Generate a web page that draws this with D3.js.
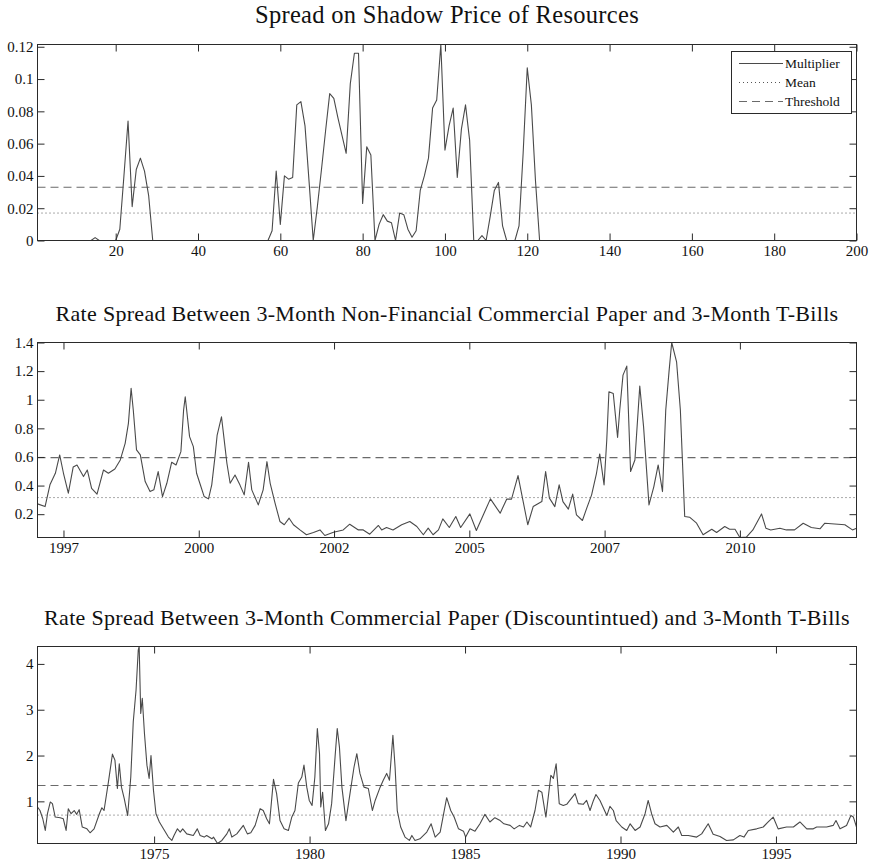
<!DOCTYPE html>
<html>
<head>
<meta charset="utf-8">
<script src="https://cdn.jsdelivr.net/npm/d3@7"></script>
<style>
  body { margin: 0; background: #fff; }
  svg text { font-family: "Liberation Serif", "Times New Roman", serif; fill: #111; }
</style>
</head>
<body>
<svg id="fig" width="871" height="865"></svg>
<script>
// ---- Panel 1: Lagrange multiplier on resources, by period [period, value] ----
const shadowSeries = [
  [1,0],[14,0],[15,0.0018],[16,0],[20,0],[21,0.007],[22,0.040],[23,0.074],[24,0.021],
  [25,0.044],[26,0.051],[27,0.043],[28,0.028],[29,0],[57,0],[58,0.006],[59,0.043],
  [60,0.010],[61,0.040],[62,0.038],[63,0.039],[64,0.084],[65,0.086],[66,0.071],[67,0.036],
  [68,0],[69,0.021],[70,0.044],[71,0.068],[72,0.091],[73,0.088],[74,0.076],[75,0.065],
  [76,0.054],[77,0.097],[78,0.116],[79,0.116],[80,0.023],[81,0.058],[82,0.053],[83,0],
  [84,0.010],[85,0.016],[86,0.012],[87,0.011],[88,0],[89,0.017],[90,0.016],[91,0.007],
  [92,0.002],[93,0.006],[94,0.031],[95,0.040],[96,0.051],[97,0.082],[98,0.087],[99,0.1214],
  [100,0.056],[101,0.071],[102,0.082],[103,0.039],[104,0.069],[105,0.084],[106,0.062],
  [107,0],[108,0],[109,0.003],[110,0],[111,0.015],[112,0.031],[113,0.036],[114,0.009],
  [115,0],[117,0],[118,0.009],[119,0.054],[120,0.107],[121,0.084],[122,0.037],[123,0],[200,0]
];
const shadowMean = 0.017;
const shadowThreshold = 0.033;
const shadowXTicks = [20, 40, 60, 80, 100, 120, 140, 160, 180, 200];
const shadowYTicks = [0, 0.02, 0.04, 0.06, 0.08, 0.1, 0.12];

// ---- Panel 2: non-financial CP minus T-bill spread [year, percent] ----
const nfSeries = [
  [1997.02,0.272],[1997.16,0.253],[1997.25,0.405],[1997.35,0.486],[1997.43,0.614],[1997.50,0.486],
  [1997.59,0.347],[1997.68,0.53],[1997.75,0.544],[1997.87,0.463],[1997.94,0.509],[1998.02,0.381],
  [1998.12,0.34],[1998.24,0.509],[1998.33,0.486],[1998.45,0.516],[1998.55,0.579],[1998.64,0.695],
  [1998.70,0.835],[1998.75,1.08],[1998.79,0.928],[1998.85,0.649],[1998.92,0.614],[1999.01,0.428],
  [1999.10,0.358],[1999.17,0.37],[1999.25,0.498],[1999.33,0.323],[1999.41,0.416],[1999.50,0.563],
  [1999.58,0.544],[1999.67,0.637],[1999.72,0.928],[1999.75,1.021],[1999.83,0.742],[1999.90,0.672],
  [1999.96,0.486],[2000.02,0.416],[2000.10,0.323],[2000.18,0.307],[2000.24,0.405],[2000.30,0.602],
  [2000.34,0.753],[2000.42,0.881],[2000.47,0.719],[2000.52,0.556],[2000.58,0.416],[2000.67,0.474],
  [2000.76,0.405],[2000.84,0.335],[2000.92,0.563],[2000.98,0.37],[2001.10,0.265],[2001.19,0.37],
  [2001.26,0.567],[2001.32,0.416],[2001.41,0.277],[2001.50,0.149],[2001.58,0.126],[2001.67,0.172],
  [2001.75,0.126],[2001.87,0.09],[2001.99,0.056],[2002.12,0.072],[2002.24,0.09],[2002.33,0.051],
  [2002.49,0.074],[2002.67,0.09],[2002.79,0.13],[2002.95,0.09],[2003.04,0.09],[2003.16,0.06],
  [2003.32,0.121],[2003.38,0.09],[2003.47,0.107],[2003.59,0.09],[2003.75,0.126],[2003.90,0.149],
  [2004.03,0.114],[2004.15,0.056],[2004.24,0.102],[2004.33,0.056],[2004.43,0.09],[2004.51,0.167],
  [2004.63,0.107],[2004.75,0.184],[2004.84,0.107],[2005.01,0.202],[2005.13,0.086],[2005.39,0.307],
  [2005.57,0.207],[2005.69,0.305],[2005.78,0.305],[2005.90,0.47],[2006.08,0.126],[2006.18,0.253],
  [2006.34,0.288],[2006.41,0.498],[2006.48,0.312],[2006.58,0.253],[2006.66,0.405],[2006.73,0.288],
  [2006.83,0.235],[2006.91,0.34],[2006.98,0.195],[2007.09,0.156],[2007.17,0.242],[2007.26,0.335],
  [2007.35,0.486],[2007.41,0.621],[2007.49,0.405],[2007.54,0.719],[2007.58,1.056],[2007.66,1.044],
  [2007.74,0.737],[2007.78,0.928],[2007.84,1.172],[2007.91,1.235],[2007.98,0.498],[2008.06,0.579],
  [2008.15,1.095],[2008.22,0.812],[2008.32,0.265],[2008.41,0.393],[2008.49,0.544],[2008.57,0.358],
  [2008.63,0.928],[2008.69,1.195],[2008.74,1.40],[2008.83,1.265],[2008.90,0.928],[2008.98,0.184],
  [2009.07,0.179],[2009.20,0.137],[2009.32,0.056],[2009.48,0.095],[2009.57,0.072],[2009.72,0.114],
  [2009.81,0.095],[2009.91,0.095],[2010.00,0.037],[2010.12,0.04],[2010.24,0.09],[2010.40,0.202],
  [2010.48,0.102],[2010.57,0.09],[2010.74,0.102],[2010.86,0.09],[2011.01,0.09],[2011.17,0.137],
  [2011.32,0.107],[2011.48,0.098],[2011.57,0.137],[2011.69,0.133],[2011.94,0.126],[2012.08,0.09],
  [2012.155,0.102]
];
const nfMean = 0.316;
const nfThreshold = 0.595;
const nfXTicks = [1997.5, 2000, 2002.5, 2005, 2007.5, 2010];
const nfXTickLabels = ["1997", "2000", "2002", "2005", "2007", "2010"];
const nfYTicks = [0.2, 0.4, 0.6, 0.8, 1, 1.2, 1.4];

// ---- Panel 3: commercial paper (discontinued) minus T-bill spread [year, percent] ----
const cpSeries = [
  [1971.25,0.876],[1971.33,0.80],[1971.42,0.62],[1971.50,0.365],[1971.57,0.73],[1971.66,0.985],
  [1971.73,0.95],[1971.82,0.657],[1971.98,0.643],[1972.08,0.62],[1972.17,0.365],[1972.24,0.84],
  [1972.33,0.73],[1972.43,0.80],[1972.51,0.716],[1972.59,0.818],[1972.69,0.438],[1972.84,0.40],
  [1972.94,0.314],[1973.07,0.40],[1973.24,0.73],[1973.32,0.86],[1973.39,0.80],[1973.53,1.42],
  [1973.66,2.03],[1973.74,1.90],[1973.82,1.28],[1973.88,1.82],[1973.95,1.31],[1974.04,1.06],
  [1974.15,0.69],[1974.25,1.53],[1974.33,2.74],[1974.42,3.43],[1974.49,4.30],[1974.52,4.38],
  [1974.57,2.92],[1974.62,3.25],[1974.69,2.48],[1974.77,1.79],[1974.84,1.50],[1974.90,2.0],
  [1974.98,1.24],[1975.06,0.73],[1975.17,0.55],[1975.30,0.40],[1975.46,0.22],[1975.57,0.147],
  [1975.64,0.256],[1975.75,0.40],[1975.84,0.33],[1975.92,0.40],[1976.05,0.29],[1976.26,0.256],
  [1976.39,0.40],[1976.48,0.256],[1976.61,0.22],[1976.69,0.256],[1976.86,0.183],[1976.91,0.22],
  [1977.04,0.08],[1977.18,0.147],[1977.34,0.29],[1977.42,0.40],[1977.50,0.22],[1977.66,0.29],
  [1977.87,0.475],[1978.00,0.29],[1978.11,0.314],[1978.25,0.475],[1978.41,0.84],[1978.51,0.80],
  [1978.62,0.62],[1978.71,0.51],[1978.84,1.48],[1978.94,1.17],[1979.05,0.58],[1979.18,0.40],
  [1979.32,0.365],[1979.43,0.66],[1979.53,0.80],[1979.64,1.40],[1979.75,1.53],[1979.82,1.79],
  [1979.91,1.31],[1979.99,1.02],[1980.08,0.91],[1980.17,1.53],[1980.25,2.59],[1980.32,2.04],
  [1980.36,0.876],[1980.42,1.20],[1980.51,0.365],[1980.61,0.51],[1980.71,0.95],[1980.82,1.97],
  [1980.89,2.59],[1980.96,2.19],[1981.04,1.31],[1981.17,0.58],[1981.30,1.17],[1981.43,1.75],
  [1981.52,2.04],[1981.62,1.61],[1981.75,1.31],[1981.89,1.28],[1982.02,0.80],[1982.11,1.02],
  [1982.27,1.31],[1982.37,1.46],[1982.48,1.61],[1982.57,1.46],[1982.68,2.44],[1982.75,1.75],
  [1982.82,0.80],[1982.93,0.44],[1983.07,0.22],[1983.21,0.147],[1983.29,0.256],[1983.39,0.147],
  [1983.55,0.183],[1983.77,0.33],[1983.91,0.51],[1984.04,0.22],[1984.20,0.33],[1984.41,1.08],
  [1984.54,0.80],[1984.65,0.657],[1984.79,0.40],[1984.95,0.35],[1985.02,0.22],[1985.16,0.40],
  [1985.32,0.35],[1985.48,0.51],[1985.64,0.716],[1985.80,0.55],[1985.96,0.643],[1986.13,0.58],
  [1986.25,0.51],[1986.45,0.475],[1986.58,0.40],[1986.75,0.475],[1986.88,0.44],[1986.99,0.55],
  [1987.11,0.44],[1987.25,0.80],[1987.36,1.24],[1987.47,1.20],[1987.60,0.657],[1987.76,1.57],
  [1987.84,1.50],[1987.93,1.82],[1988.03,0.95],[1988.16,0.91],[1988.27,0.935],[1988.54,1.17],
  [1988.64,0.95],[1988.80,0.935],[1988.91,1.02],[1989.02,0.80],[1989.13,1.02],[1989.21,1.15],
  [1989.34,1.02],[1989.56,0.69],[1989.66,0.89],[1989.77,0.80],[1989.86,0.58],[1990.04,0.44],
  [1990.20,0.365],[1990.31,0.51],[1990.47,0.365],[1990.63,0.44],[1990.79,0.73],[1990.89,1.02],
  [1991.00,0.73],[1991.11,0.51],[1991.27,0.44],[1991.49,0.475],[1991.70,0.33],[1991.86,0.44],
  [1991.97,0.256],[1992.18,0.256],[1992.45,0.22],[1992.61,0.29],[1992.82,0.51],[1992.98,0.28],
  [1993.20,0.234],[1993.41,0.147],[1993.63,0.16],[1993.84,0.256],[1993.97,0.22],[1994.11,0.365],
  [1994.38,0.40],[1994.59,0.44],[1994.75,0.55],[1994.91,0.657],[1995.07,0.40],[1995.34,0.44],
  [1995.56,0.44],[1995.77,0.55],[1995.99,0.40],[1996.20,0.40],[1996.31,0.44],[1996.63,0.44],
  [1996.84,0.475],[1996.93,0.58],[1997.06,0.40],[1997.27,0.475],[1997.41,0.69],[1997.49,0.657],
  [1997.59,0.44]
];
const cpMean = 0.70;
const cpThreshold = 1.345;
const cpXTicks = [1975, 1980, 1985, 1990, 1995];
const cpYTicks = [1, 2, 3, 4];

const titles = [
  "Spread on Shadow Price of Resources",
  "Rate Spread Between 3-Month Non-Financial Commercial Paper and 3-Month T-Bills",
  "Rate Spread Between 3-Month Commercial Paper (Discountintued) and 3-Month T-Bills"
];
const legendLabels = ["Multiplier", "Mean", "Threshold"];

// ---- drawing ----
const svg = d3.select("#fig");
const LEFT = 37.5, RIGHT = 856.5, TICK = 7;
const LINE_COLOR = "#4a4a4a", BOX_COLOR = "#2a2a2a";
const MEAN_DASH = "1,3", THRESH_DASH = "8,5";
const fmt = d => String(+d.toFixed(4));

function drawPanel(p, idx) {
  const x = d3.scaleLinear().domain(d3.extent(p.series, d => d[0])).range([LEFT, RIGHT]);
  const y = d3.scaleLinear().domain(p.yDomain || d3.extent(p.series, d => d[1])).range([p.bottom, p.top]);
  const g = svg.append("g");

  const clipId = "clip" + idx;
  g.append("clipPath").attr("id", clipId).append("rect")
    .attr("x", LEFT).attr("y", p.top - 1).attr("width", RIGHT - LEFT).attr("height", p.bottom - p.top + 2);

  const plot = g.append("g").attr("clip-path", `url(#${clipId})`);
  plot.append("line").attr("x1", LEFT).attr("x2", RIGHT)
    .attr("y1", y(p.mean)).attr("y2", y(p.mean))
    .attr("stroke", "#555").attr("stroke-width", 1).attr("stroke-dasharray", MEAN_DASH);
  plot.append("line").attr("x1", LEFT).attr("x2", RIGHT)
    .attr("y1", y(p.threshold)).attr("y2", y(p.threshold))
    .attr("stroke", "#6a6a6a").attr("stroke-width", 1.1).attr("stroke-dasharray", THRESH_DASH);
  plot.append("path").datum(p.series)
    .attr("fill", "none").attr("stroke", LINE_COLOR).attr("stroke-width", 1.1)
    .attr("stroke-linejoin", "round")
    .attr("d", d3.line().x(d => x(d[0])).y(d => y(d[1])));

  const xLab = p.xTickLabels ? ((d, i) => p.xTickLabels[i]) : fmt;

  const ax = [
    g.append("g").attr("transform", `translate(0,${p.bottom})`)
      .call(d3.axisBottom(x).tickValues(p.xTicks).tickFormat(xLab).tickSizeInner(-TICK).tickSizeOuter(0).tickPadding(5)),
    g.append("g").attr("transform", `translate(0,${p.top})`)
      .call(d3.axisTop(x).tickValues(p.xTicks).tickFormat("").tickSizeInner(-TICK).tickSizeOuter(0)),
    g.append("g").attr("transform", `translate(${LEFT},0)`)
      .call(d3.axisLeft(y).tickValues(p.yTicks).tickFormat(fmt).tickSizeInner(-TICK).tickSizeOuter(0).tickPadding(4)),
    g.append("g").attr("transform", `translate(${RIGHT},0)`)
      .call(d3.axisRight(y).tickValues(p.yTicks).tickFormat("").tickSizeInner(-TICK).tickSizeOuter(0))
  ];
  ax.forEach(a => {
    a.select(".domain").remove();
    a.selectAll(".tick line").attr("stroke", BOX_COLOR);
    a.selectAll(".tick text").attr("font-size", 15).attr("fill", "#111")
      .attr("font-family", '"Liberation Serif", "Times New Roman", serif');
  });

  g.append("rect").attr("x", LEFT).attr("y", p.top)
    .attr("width", RIGHT - LEFT).attr("height", p.bottom - p.top)
    .attr("fill", "none").attr("stroke", BOX_COLOR).attr("stroke-width", 1);

  g.append("text").attr("x", (LEFT + RIGHT) / 2).attr("y", p.top - 21.5)
    .attr("text-anchor", "middle").attr("font-size", p.titleSize).attr("letter-spacing", 0.3)
    .text(p.title);

  return g;
}

const g1 = drawPanel({
  series: shadowSeries, yDomain: [0, d3.max(shadowSeries, d => d[1])],
  mean: shadowMean, threshold: shadowThreshold,
  xTicks: shadowXTicks, yTicks: shadowYTicks,
  top: 44.5, bottom: 240.5, title: titles[0], titleSize: 24.5
}, 1);

drawPanel({
  series: nfSeries, mean: nfMean, threshold: nfThreshold,
  xTicks: nfXTicks, xTickLabels: nfXTickLabels, yTicks: nfYTicks,
  top: 342.5, bottom: 537.5, title: titles[1], titleSize: 22
}, 2);

drawPanel({
  series: cpSeries, mean: cpMean, threshold: cpThreshold,
  xTicks: cpXTicks, yTicks: cpYTicks,
  top: 646.5, bottom: 843.5, title: titles[2], titleSize: 22
}, 3);

// legend for the first panel
const leg = g1.append("g");
leg.append("rect").attr("x", 731.5).attr("y", 51.5).attr("width", 120).attr("height", 62)
  .attr("fill", "#fff").attr("stroke", BOX_COLOR).attr("stroke-width", 1);
const legStyles = [
  { dash: null, color: LINE_COLOR, w: 1.1 },
  { dash: MEAN_DASH, color: "#555", w: 1 },
  { dash: THRESH_DASH, color: "#6a6a6a", w: 1.1 }
];
const legY = [63.5, 82.5, 101.5];
legendLabels.forEach((lab, i) => {
  leg.append("line").attr("x1", 739).attr("x2", 783).attr("y1", legY[i]).attr("y2", legY[i])
    .attr("stroke", legStyles[i].color).attr("stroke-width", legStyles[i].w)
    .attr("stroke-dasharray", legStyles[i].dash);
  leg.append("text").attr("x", 785).attr("y", legY[i]).attr("dy", "0.35em")
    .attr("font-size", 13.5).text(lab);
});
</script>
</body>
</html>
